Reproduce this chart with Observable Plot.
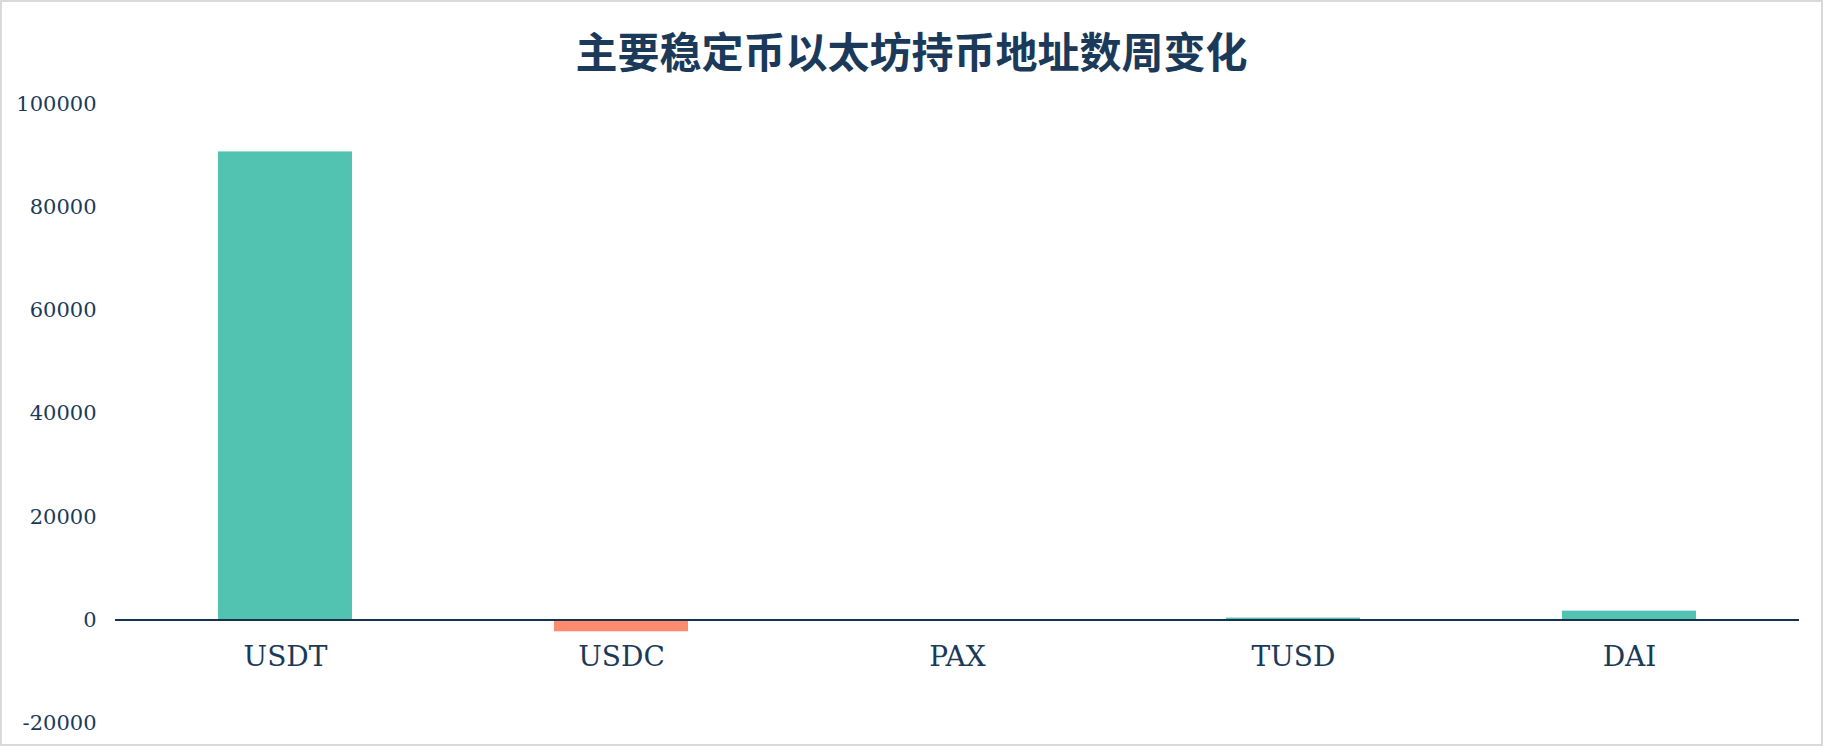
<!DOCTYPE html>
<html>
<head>
<meta charset="utf-8">
<script src="https://cdn.jsdelivr.net/npm/d3@7"></script>
<script src="https://cdn.jsdelivr.net/npm/@observablehq/plot@0.6"></script>
<style>
  html, body { margin: 0; padding: 0; background: #fff; }
  #wrap { width: 1823px; height: 746px; box-sizing: border-box; border: 2px solid #d9d9d9; background: #fff; overflow: hidden; }
  #title { height: 80px; padding-top: 8px; line-height: 80px; text-align: center; font-family: "Noto Sans CJK SC", sans-serif; font-weight: 700; font-size: 42px; color: #1b3a5a; letter-spacing: 0px; }
</style>
</head>
<body>
<div id="wrap">
  <div id="title">主要稳定币以太坊持币地址数周变化</div>
  <div id="chart"></div>
</div>
<script>
const categories = ["USDT", "USDC", "PAX", "TUSD", "DAI"];
const values = [90800, -2300, 30, 350, 1700];
const yTicks = [-20000, 0, 20000, 40000, 60000, 80000, 100000];

const data = categories.map((c, i) => ({category: c, value: values[i]}));
const textColor = "#1b3a5a";

const chart = Plot.plot({
  width: 1819,
  height: 652,
  marginLeft: 113,
  marginRight: 22,
  marginTop: 14,
  marginBottom: 19.5,
  style: {fontFamily: "'DejaVu Serif', serif", color: textColor, background: "#fff"},
  x: {domain: categories, paddingInner: 0.6, paddingOuter: 0.3, label: null},
  y: {domain: [-20000, 100000], label: null},
  marks: [
    Plot.barY(data, {x: "category", y: "value", fill: d => d.value >= 0 ? "#52c2b1" : "#ff8b6e"}),
    Plot.ruleY([0], {stroke: "#17324d", strokeWidth: 2}),
    Plot.axisY({ticks: yTicks, tickFormat: d => String(d), tickSize: 0, tickPadding: 19, fontSize: 21, fill: textColor, label: null}),
    Plot.axisX({anchor: "bottom", tickSize: 0, tickPadding: 0, dy: -65.5, lineAnchor: "middle", fontSize: 28, fill: textColor, label: null})
  ]
});
document.getElementById("chart").appendChild(chart);
</script>
</body>
</html>
